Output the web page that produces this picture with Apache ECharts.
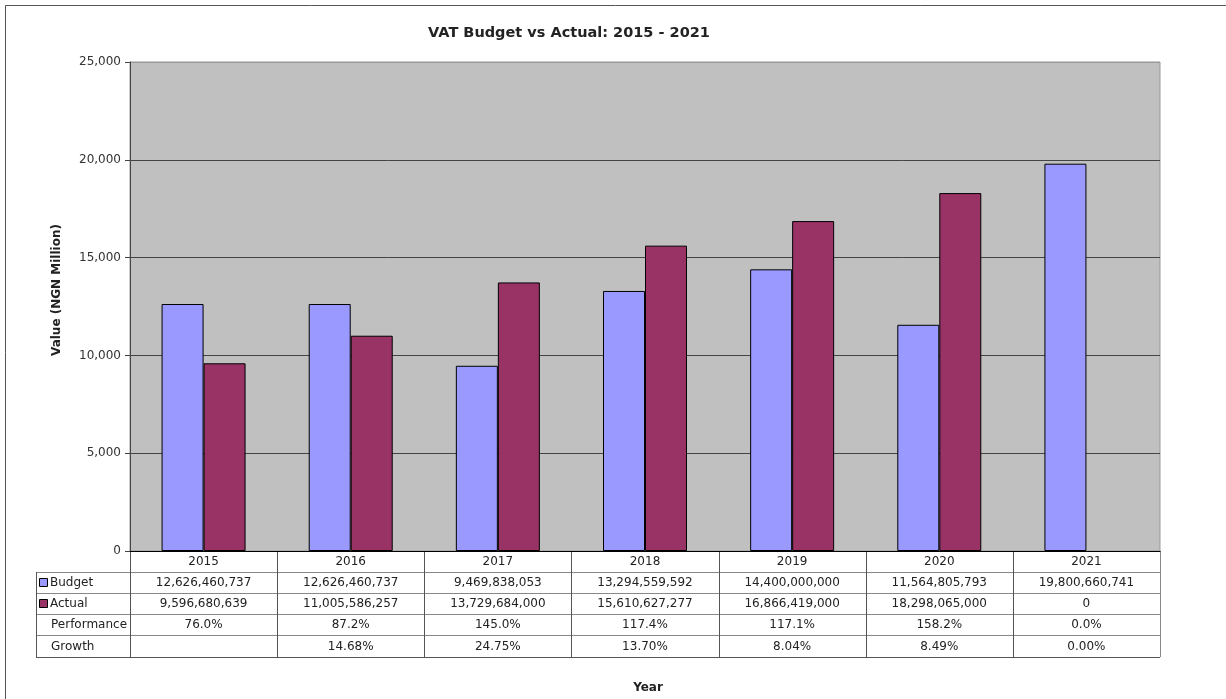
<!DOCTYPE html>
<html>
<head>
<meta charset="utf-8">
<title>VAT Budget vs Actual</title>
<script src="https://cdn.jsdelivr.net/npm/echarts@6/dist/echarts.min.js"></script>
<style>
  html, body { margin: 0; padding: 0; background: #fff; }
  #chart { width: 1226px; height: 699px; }
</style>
</head>
<body>
<div id="chart"></div>
<script>
// data
const years = ['2015', '2016', '2017', '2018', '2019', '2020', '2021']
const budget = [12626460737, 12626460737, 9469838053, 13294559592, 14400000000, 11564805793, 19800660741]
const actual = [9596680639, 11005586257, 13729684000, 15610627277, 16866419000, 18298065000, 0]
const performance = ['76.0%', '87.2%', '145.0%', '117.4%', '117.1%', '158.2%', '0.0%']
const growth = ['', '14.68%', '24.75%', '13.70%', '8.04%', '8.49%', '0.00%']
const yTicks = [0, 5000, 10000, 15000, 20000, 25000]

const FONT = 'DejaVu Sans'
const budgetColor = '#9999FF'
const actualColor = '#993366'

// plot area
const gLeft = 130
const gTop = 62
const gRight = 1160
const gBottom = 551
const colW = (gRight - gLeft) / years.length
const tabLeft = 36
const rowY = [551, 572, 593, 614, 635, 657]

const fmt = v => v.toLocaleString('en-US')
// values in NGN million, a zero value draws no bar (like the excel chart)
const toMillion = v => (v === 0 ? null : v / 1e6)

// table graphics (lines + texts)
const graphic = []
const line = (x1, y1, x2, y2, color) => graphic.push({
  type: 'line', silent: true,
  shape: { x1: x1, y1: y1, x2: x2, y2: y2 },
  style: { stroke: color || '#555', lineWidth: 1 }
})
const text = (x, y, t, align, font, rotation) => graphic.push({
  type: 'text', silent: true, x: x, y: y, rotation: rotation || 0,
  style: {
    text: t, fill: '#222',
    font: font || '12px "' + FONT + '"',
    align: align || 'center', verticalAlign: 'middle'
  }
})

// horizontal lines
for (let r = 1; r < rowY.length; r++) {
  line(tabLeft, rowY[r] + 0.5, gRight, rowY[r] + 0.5, r === rowY.length - 1 ? '#555' : '#888')
}
// vertical lines
line(tabLeft + 0.5, rowY[1], tabLeft + 0.5, rowY[5])
for (let i = 0; i <= years.length; i++) {
  const x = Math.round(gLeft + i * colW) + 0.5
  line(x, rowY[0], x, rowY[5], i === years.length ? '#888' : '#555')
}

const rows = [
  budget.map(fmt),
  actual.map(fmt),
  performance,
  growth
]
const rowLabels = ['Budget', 'Actual', 'Performance', 'Growth']
const rowKeys = [budgetColor, actualColor, null, null]

rows.forEach((vals, r) => {
  const cy = (rowY[r + 1] + rowY[r + 2]) / 2 + 0.5
  vals.forEach((v, i) => text(gLeft + (i + 0.5) * colW, cy, v))
  if (rowKeys[r]) {
    graphic.push({
      type: 'rect', silent: true,
      shape: { x: 39.5, y: Math.round(cy) - 4.5, width: 8, height: 8 },
      style: { fill: rowKeys[r], stroke: '#000', lineWidth: 1 }
    })
    text(50, cy, rowLabels[r], 'left')
  } else {
    text(51, cy, rowLabels[r], 'left')
  }
})

// outer frame (top + left edge visible)
line(5.5, 5.5, 1226, 5.5, '#555')
line(5.5, 5.5, 5.5, 699, '#555')

// titles
text(569, 33, 'VAT Budget vs Actual: 2015 - 2021', 'center', 'bold 14.5px "' + FONT + '"')
text(57, 290, 'Value (NGN Million)', 'center', 'bold 12px "' + FONT + '"', Math.PI / 2)
text(648, 688, 'Year', 'center', 'bold 12px "' + FONT + '"')

const myChart = echarts.init(document.getElementById('chart'))

const options = {
  animation: false,
  textStyle: { fontFamily: FONT },
  grid: {
    left: gLeft,
    top: gTop,
    right: 1226 - gRight,
    bottom: 699 - gBottom,
    show: true,
    backgroundColor: '#C0C0C0',
    borderColor: '#999',
    borderWidth: 1
  },
  xAxis: {
    type: 'category',
    data: years,
    axisLine: { lineStyle: { color: '#000', width: 1 } },
    axisTick: { show: false },
    axisLabel: { color: '#222', fontSize: 12, margin: 5 }
  },
  yAxis: {
    type: 'value',
    min: yTicks[0],
    max: yTicks[yTicks.length - 1],
    interval: yTicks[1] - yTicks[0],
    axisLine: { show: true, lineStyle: { color: '#444' } },
    axisTick: { show: true, length: 5, lineStyle: { color: '#444' } },
    axisLabel: {
      color: '#333', fontSize: 12, margin: 9,
      formatter: v => fmt(v)
    },
    splitLine: {
      lineStyle: { color: ['#444', '#444', '#444', '#444', '#444', '#999'], width: 1 }
    }
  },
  series: [
    {
      name: 'Budget',
      type: 'bar',
      data: budget.map(toMillion),
      barWidth: 42,
      barGap: '0%',
      itemStyle: { color: budgetColor, borderColor: '#000', borderWidth: 1 }
    },
    {
      name: 'Actual',
      type: 'bar',
      data: actual.map(toMillion),
      barWidth: 42,
      itemStyle: { color: actualColor, borderColor: '#000', borderWidth: 1 }
    }
  ],
  graphic: graphic
}

myChart.setOption(options)
</script>
</body>
</html>
